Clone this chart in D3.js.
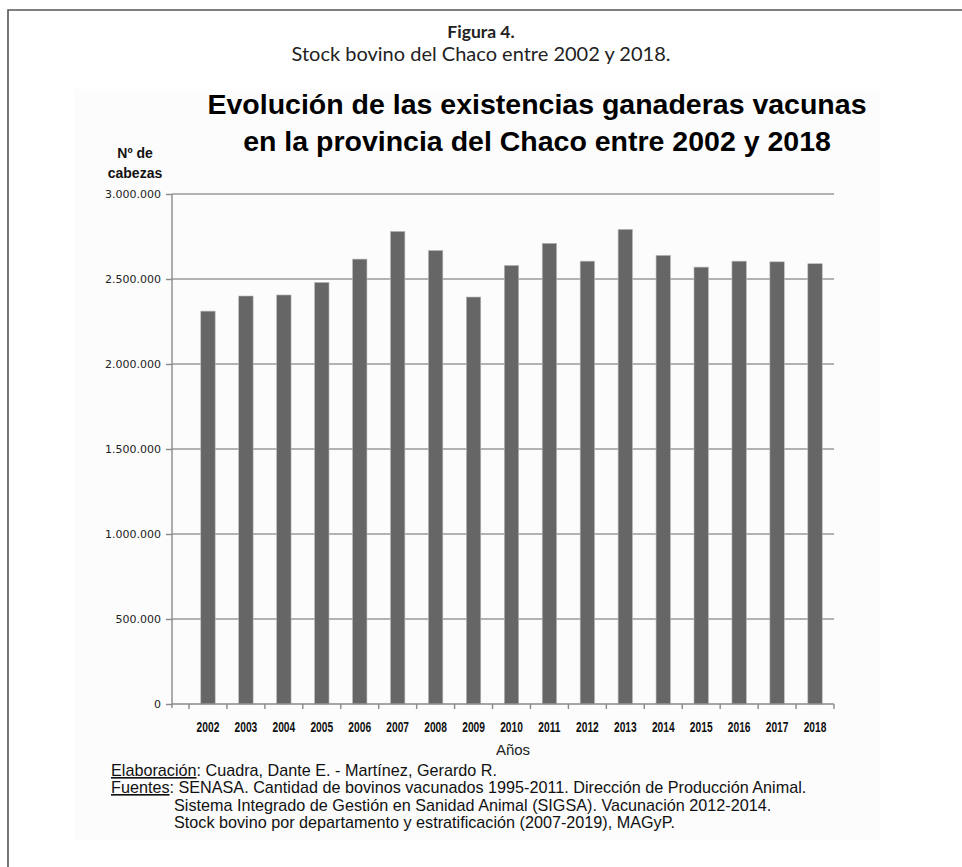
<!DOCTYPE html>
<html>
<head>
<meta charset="utf-8">
<script src="https://cdn.jsdelivr.net/npm/d3@7"></script>
<style>
body{margin:0;background:#fff;}
.fig{font-family:Lato,"Open Sans",sans-serif;fill:#222;}
.title{font-family:"Liberation Sans",Arial,sans-serif;font-weight:bold;fill:#000;}
.ylab{font-family:"Liberation Sans",Arial,sans-serif;font-weight:bold;fill:#111;}
.foot{font-family:"Liberation Sans",Arial,sans-serif;fill:#111;}
</style>
</head>
<body>
<svg id="chart"></svg>
<script>
var years = ["2002","2003","2004","2005","2006","2007","2008","2009","2010","2011","2012","2013","2014","2015","2016","2017","2018"]
var cabezas = [2311000,2400000,2406000,2480000,2617000,2780000,2668000,2394000,2580000,2710000,2605000,2792000,2639000,2570000,2605000,2601000,2590000]
var yTicks = [0,500000,1000000,1500000,2000000,2500000,3000000]
var yTickLabels = ["0","500.000","1.000.000","1.500.000","2.000.000","2.500.000","3.000.000"]
var fuentes = ["SENASA. Cantidad de bovinos vacunados 1995-2011. Dirección de Producción Animal.",
    "Sistema Integrado de Gestión en Sanidad Animal (SIGSA). Vacunación 2012-2014.",
    "Stock bovino por departamento y estratificación (2007-2019), MAGyP."]

var screen = {width:962,height:867}
var plot = {left:172,right:834,top:194,bottom:704,barStart:189}

var svg = d3.select("#chart")
    .attr("width",screen.width)
    .attr("height",screen.height)

// figure frame (runs off the page right and bottom)
svg.append("path")
    .attr("d","M8,880 L8,10 L980,10")
    .attr("fill","none")
    .attr("stroke","#555")
    .attr("stroke-width",1.6)

// faint background of the pasted chart image
svg.append("rect")
    .attr("x",75).attr("y",89)
    .attr("width",805).attr("height",751)
    .attr("fill","#fcfcfc")

var xScale = d3.scaleBand()
    .domain(years)
    .range([plot.barStart,plot.right])
    .paddingInner(0.62)
    .paddingOuter(0.31)

var yScale = d3.scaleLinear()
    .domain([0,3000000])
    .range([plot.bottom,plot.top])

// gridlines
svg.append("g")
    .selectAll("line")
    .data(yTicks.slice(1))
    .enter()
    .append("line")
    .attr("x1",plot.left)
    .attr("x2",plot.right)
    .attr("y1",function(d){return yScale(d)})
    .attr("y2",function(d){return yScale(d)})
    .attr("stroke","#9a9a9a")
    .attr("stroke-width",1.4)

// bars
svg.append("g")
    .selectAll("rect")
    .data(cabezas)
    .enter()
    .append("rect")
    .attr("x",function(d,i){return xScale(years[i])})
    .attr("y",function(d){return yScale(d)})
    .attr("width",xScale.bandwidth())
    .attr("height",function(d){return plot.bottom-yScale(d)})
    .attr("fill","#666")
    .attr("stroke","#bbb")
    .attr("stroke-width",0.6)

// y axis
var yAxis = d3.axisLeft(yScale)
    .tickValues(yTicks)
    .tickFormat(function(d,i){return yTickLabels[i]})
    .tickSize(6)
    .tickPadding(5)

var ya = svg.append("g")
    .attr("transform","translate("+plot.left+",0)")
    .call(yAxis)
ya.select(".domain").remove()
ya.selectAll("line").attr("stroke","#8a8a8a").attr("stroke-width",1.4)
ya.selectAll("text")
    .attr("font-family","'DejaVu Sans',Verdana,sans-serif")
    .attr("font-size",11)
    .attr("fill","#222")
ya.append("line")
    .attr("x1",0).attr("x2",0)
    .attr("y1",plot.top).attr("y2",plot.bottom+4)
    .attr("stroke","#8a8a8a")
    .attr("stroke-width",1.4)

// x axis
var xAxis = d3.axisBottom(xScale)
    .tickSize(0)
    .tickPadding(18)

var xa = svg.append("g")
    .attr("transform","translate(0,"+plot.bottom+")")
    .call(xAxis)
xa.select(".domain").remove()
xa.selectAll("text")
    .attr("font-family","'Liberation Sans',Arial,sans-serif")
    .attr("font-weight","bold")
    .attr("font-size",14)
    .attr("fill","#111")
    .attr("transform","scale(0.73,1)")
xa.append("line")
    .attr("x1",plot.left).attr("x2",plot.right)
    .attr("y1",0).attr("y2",0)
    .attr("stroke","#8a8a8a")
    .attr("stroke-width",1.4)
xa.selectAll(".sep")
    .data(years)
    .enter()
    .append("line")
    .attr("class","sep")
    .attr("x1",function(d){return xScale(d)-xScale.step()*0.31})
    .attr("x2",function(d){return xScale(d)-xScale.step()*0.31})
    .attr("y1",0).attr("y2",5)
    .attr("stroke","#8a8a8a")
    .attr("stroke-width",1.4)
xa.append("line")
    .attr("x1",plot.right).attr("x2",plot.right)
    .attr("y1",0).attr("y2",5)
    .attr("stroke","#8a8a8a")
    .attr("stroke-width",1.4)

// labels
svg.append("text").attr("class","fig")
    .attr("x",481).attr("y",38)
    .attr("text-anchor","middle")
    .attr("font-size",17.5).attr("font-weight","bold")
    .text("Figura 4.")
svg.append("text").attr("class","fig")
    .attr("x",481).attr("y",61)
    .attr("text-anchor","middle")
    .attr("font-size",20)
    .text("Stock bovino del Chaco entre 2002 y 2018.")

svg.append("text").attr("class","title")
    .attr("x",537).attr("y",114)
    .attr("text-anchor","middle")
    .attr("font-size",28.5)
    .text("Evolución de las existencias ganaderas vacunas")
svg.append("text").attr("class","title")
    .attr("x",537).attr("y",151)
    .attr("text-anchor","middle")
    .attr("font-size",28.5)
    .text("en la provincia del Chaco entre 2002 y 2018")

svg.append("text").attr("class","ylab")
    .attr("x",135).attr("y",158)
    .attr("text-anchor","middle")
    .attr("font-size",14)
    .text("Nº de")
svg.append("text").attr("class","ylab")
    .attr("x",135).attr("y",178)
    .attr("text-anchor","middle")
    .attr("font-size",14)
    .text("cabezas")

svg.append("text")
    .attr("x",513).attr("y",755)
    .attr("text-anchor","middle")
    .attr("font-family","'Liberation Sans',Arial,sans-serif")
    .attr("font-size",15)
    .attr("fill","#222")
    .text("Años")

// footer
var foot = svg.append("g").attr("class","foot").attr("font-size",16.2)
var l1 = foot.append("text").attr("x",111).attr("y",776)
l1.append("tspan").attr("text-decoration","underline").text("Elaboración")
l1.append("tspan").text(": Cuadra, Dante E. - Martínez, Gerardo R.")
var l2 = foot.append("text").attr("x",111).attr("y",793)
l2.append("tspan").attr("text-decoration","underline").text("Fuentes")
l2.append("tspan").text(": "+fuentes[0])
foot.append("text").attr("x",174).attr("y",811).text(fuentes[1])
foot.append("text").attr("x",174).attr("y",828).text(fuentes[2])
</script>
</body>
</html>
